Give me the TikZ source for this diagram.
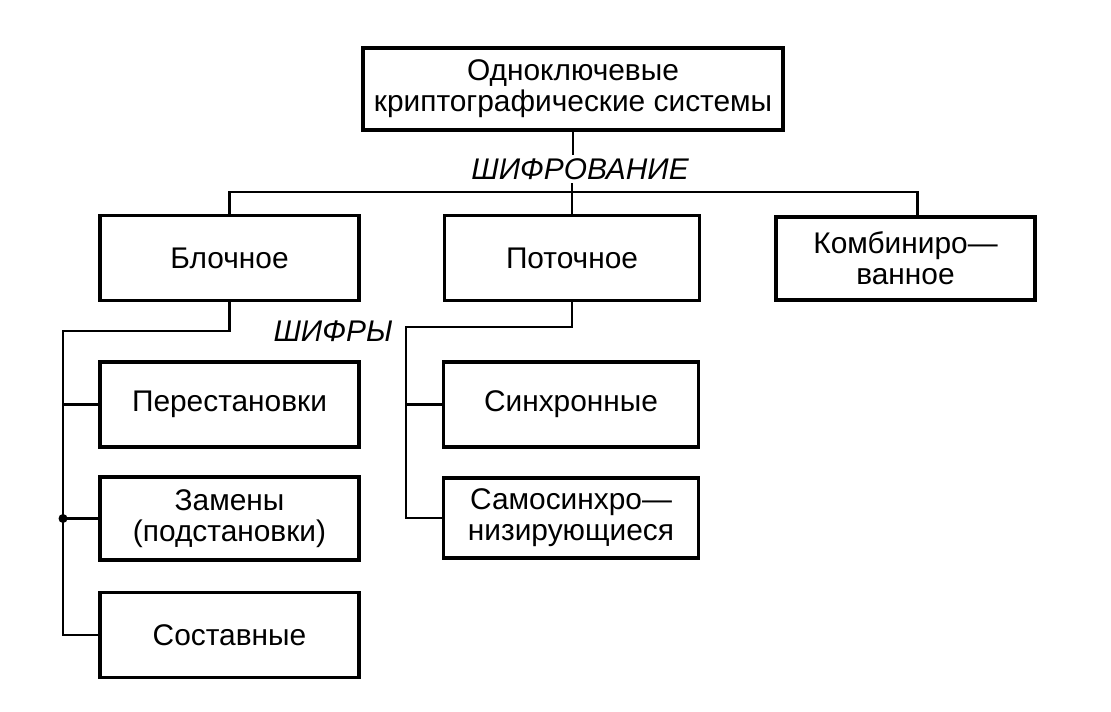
\documentclass[tikz,border=0pt]{standalone}
\usepackage{fontspec}
\setmainfont{Liberation Sans}
\usetikzlibrary{calc}

\begin{document}
\begin{tikzpicture}[x=0.02cm, y=-0.02cm,
    box/.style={draw, line width=2.1pt, minimum width=5.18cm, minimum height=1.7cm, align=center, inner sep=0pt, font=\fontsize{17}{17.5}\selectfont},
    lnk/.style={line width=1.4pt},
    lbl/.style={font=\fontsize{17}{17.5}\selectfont\itshape, inner sep=2pt}]
    \useasboundingbox (0,0) rectangle (1111,712);

    \node (sys) at (573,89) [box, minimum width=8.4cm, minimum height=1.64cm] {Одноключевые\\криптографические системы};
    \node (blk) at (229.5,258) [box] {Блочное};
    \node (pot) at (572,258) [box, minimum width=5.1cm] {Поточное};
    \node (kmb) at (905.5,258.5) [box, minimum height=1.66cm] {Комбиниро---\\ванное};

    \node (per) at (229.5,404.5) [box] {Перестановки};
    \node (zam) at (229.5,518.5) [box, minimum height=1.66cm] {Замены\\(подстановки)};
    \node (sost) at (229.5,635) [box] {Составные};

    \node (sin) at (571,404.5) [box, minimum width=5.1cm] {Синхронные};
    \node (sam) at (571,518) [box, minimum width=5.1cm, minimum height=1.6cm] {Самосинхро---\\низирующиеся};

    \node (enc) at (580,169) [lbl] {ШИФРОВАНИЕ};
    \node (ciph) at (333,331) [lbl] {ШИФРЫ};

    \coordinate (bus) at (572,192);
    \coordinate (lb) at (63,331);
    \coordinate (pb) at (406,327);

    \draw[lnk] (sys.south) -- (sys.south |- enc.north);
    \draw[lnk] (pot.north |- enc.south) -- (pot.north);
    \draw[lnk] (blk.north) |- (bus) -| ($(kmb.north)+(12,0)$);

    \draw[lnk] (blk.south) |- (lb) |- (sost.west);
    \draw[lnk] (per.west) -- (per.west -| lb);
    \draw[lnk] (zam.west) -- (zam.west -| lb);
    \fill (zam.west -| lb) circle (4.5);

    \draw[lnk] (pot.south) |- (pb) |- (sam.west);
    \draw[lnk] (sin.west) -- (sin.west -| pb);
\end{tikzpicture}
\end{document}
